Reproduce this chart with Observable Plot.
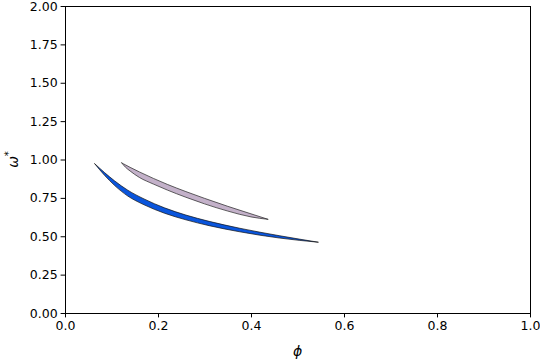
<!DOCTYPE html>
<html>
<head>
<meta charset="utf-8">
<script src="https://cdn.jsdelivr.net/npm/d3@7"></script>
<script src="https://cdn.jsdelivr.net/npm/@observablehq/plot@0.6"></script>
<style>
  html, body { margin: 0; padding: 0; background: #fff; }
  svg { font-family: "DejaVu Sans", sans-serif; }
</style>
</head>
<body>
<div id="chart"></div>
<script>
// Blue region (upper and lower boundary)
const blueX     = [0.064, 0.085, 0.107, 0.135, 0.170, 0.214, 0.260, 0.310, 0.376, 0.462, 0.545];
const blueUpper = [0.972, 0.915, 0.860, 0.800, 0.743, 0.685, 0.638, 0.597, 0.552, 0.503, 0.461];
const blueLower = [0.972, 0.897, 0.830, 0.762, 0.705, 0.650, 0.607, 0.569, 0.529, 0.488, 0.461];

// Purple region (upper and lower boundary)
const purpleX     = [0.122, 0.130, 0.140, 0.160, 0.190, 0.220, 0.260, 0.300, 0.350, 0.400, 0.437];
const purpleUpper = [0.978, 0.965, 0.949, 0.919, 0.877, 0.838, 0.791, 0.747, 0.695, 0.646, 0.610];
const purpleLower = [0.978, 0.950, 0.925, 0.883, 0.840, 0.801, 0.754, 0.711, 0.664, 0.626, 0.610];

const xTicks = [0, 0.2, 0.4, 0.6, 0.8, 1.0];
const yTicks = [0, 0.25, 0.5, 0.75, 1.0, 1.25, 1.5, 1.75, 2.0];

const blue = blueX.map((x, i) => ({x, y1: blueLower[i], y2: blueUpper[i]}));
const purple = purpleX.map((x, i) => ({x, y1: purpleLower[i], y2: purpleUpper[i]}));

const chart = Plot.plot({
  width: 540,
  height: 360,
  marginLeft: 65,
  marginRight: 10,
  marginTop: 6,
  marginBottom: 47,
  style: {fontSize: "12.5px", fontFamily: "DejaVu Sans, sans-serif", color: "#000", background: "#fff"},
  x: {domain: [0, 1], ticks: xTicks, tickFormat: d3.format(".1f"), tickSize: 4.4, tickPadding: 3.5, label: null},
  y: {domain: [0, 2], ticks: yTicks, tickFormat: d3.format(".2f"), tickSize: 4.4, tickPadding: 3.5, label: null},
  marks: [
    Plot.areaY(purple, {x: "x", y1: "y1", y2: "y2", fill: "#c3b1c9", stroke: "#222", strokeWidth: 0.7, curve: "monotone-x"}),
    Plot.areaY(blue, {x: "x", y1: "y1", y2: "y2", fill: "#0a55dc", stroke: "#111", strokeWidth: 0.7, curve: "monotone-x"}),
    Plot.frame({stroke: "#000", strokeWidth: 1})
  ]
});

const svg = d3.select(chart);
// x label
svg.append("text")
  .attr("x", 297.5).attr("y", 356)
  .attr("text-anchor", "middle")
  .attr("font-size", "14px").attr("font-style", "italic")
  .attr("fill", "#000")
  .text("ϕ");
// y label with superscript
const yl = svg.append("text")
  .attr("transform", "translate(18,159.5) rotate(-90)")
  .attr("text-anchor", "middle")
  .attr("font-size", "14px")
  .attr("fill", "#000");
yl.append("tspan").attr("font-style", "italic").text("ω");
yl.append("tspan").attr("font-size", "10px").attr("dy", "-6").text("*");

document.getElementById("chart").appendChild(chart);
</script>
</body>
</html>
